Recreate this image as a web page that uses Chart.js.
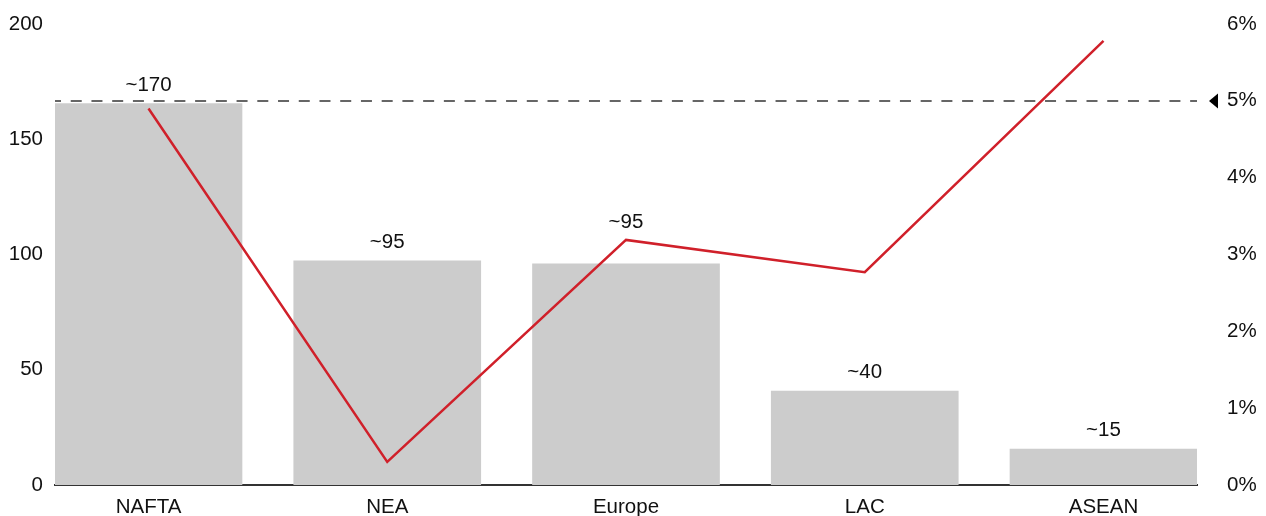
<!DOCTYPE html>
<html>
<head>
<meta charset="utf-8">
<script src="https://cdn.jsdelivr.net/npm/chart.js@4.4.1/dist/chart.umd.min.js"></script>
<style>
  html, body { margin: 0; padding: 0; background: #ffffff; }
  #wrap { width: 1266px; height: 516px; position: relative; }
</style>
</head>
<body>
<div id="wrap"><canvas id="c" width="1266" height="516"></canvas></div>
<script>
const categories = ['NAFTA', 'NEA', 'Europe', 'LAC', 'ASEAN'];
const barValues = [165.5, 97.2, 95.9, 40.8, 15.6];
const barLabels = ['~170', '~95', '~95', '~40', '~15'];
const growthPct = [4.90, 0.30, 3.19, 2.77, 5.78];
const leftTicks = [0, 50, 100, 150, 200];
const rightTicks = [0, 1, 2, 3, 4, 5, 6];
const targetPct = 5;

const FONT = '"Liberation Sans", Arial, sans-serif';
const FSIZE = 20.5;
const TEXT = '#111111';

function zeroPad(scale) {
  scale.paddingTop = 0; scale.paddingBottom = 0;
  scale.paddingLeft = 0; scale.paddingRight = 0;
}

const overlay = {
  id: 'overlay',
  beforeDatasetsDraw(chart) {
    const ctx = chart.ctx;
    const y1 = chart.scales.y1;
    const area = chart.chartArea;
    const y = Math.round(y1.getPixelForValue(targetPct));
    ctx.save();
    ctx.strokeStyle = '#666666';
    ctx.lineWidth = 2;
    ctx.setLineDash([11, 9.73]);
    ctx.lineDashOffset = 5;
    ctx.beginPath();
    ctx.moveTo(area.left, y);
    ctx.lineTo(area.right, y);
    ctx.stroke();
    ctx.setLineDash([]);
    ctx.fillStyle = '#000000';
    ctx.beginPath();
    ctx.moveTo(area.right + 12, y);
    ctx.lineTo(area.right + 21, y - 7.5);
    ctx.lineTo(area.right + 21, y + 7.5);
    ctx.closePath();
    ctx.fill();
    ctx.restore();
  },
  afterDatasetsDraw(chart) {
    const ctx = chart.ctx;
    const barMeta = chart.getDatasetMeta(0);
    const lineMeta = chart.getDatasetMeta(1);
    ctx.save();
    ctx.font = FSIZE + 'px ' + FONT;
    ctx.fillStyle = TEXT;
    ctx.textAlign = 'center';
    ctx.textBaseline = 'middle';
    barMeta.data.forEach((bar, i) => {
      const top = bar.y;
      const lp = lineMeta.data[i].y;
      let ly = top - 18.5;
      if (lp < top && lp > top - 40) ly = lp - 18;
      ctx.fillText(barLabels[i], bar.x, ly);
    });
    ctx.restore();
  }
};

const ctx = document.getElementById('c').getContext('2d');
new Chart(ctx, {
  type: 'bar',
  data: {
    datasets: [
      {
        type: 'bar',
        data: barValues.map((v, i) => ({ x: i, y: v })),
        backgroundColor: '#cccccc',
        borderWidth: 0,
        barThickness: 187,
        yAxisID: 'y',
        order: 1
      },
      {
        type: 'line',
        data: growthPct.map((v, i) => ({ x: i, y: v })),
        borderColor: '#d0202a',
        borderWidth: 2.5,
        pointRadius: 0,
        tension: 0,
        fill: false,
        yAxisID: 'y1',
        order: 0
      }
    ]
  },
  options: {
    responsive: false,
    animation: false,
    devicePixelRatio: 1,
    layout: { autoPadding: false, padding: { top: 24, left: 0, right: 0, bottom: 0 } },
    plugins: { legend: { display: false }, tooltip: { enabled: false } },
    scales: {
      x: {
        type: 'linear',
        offset: false,
        min: -0.3916,
        max: 4.3916,
        afterBuildTicks(scale) { scale.ticks = categories.map((c, i) => ({ value: i })); },
        afterFit(scale) { scale.height = 31; zeroPad(scale); },
        grid: { display: false, drawTicks: false, offset: false },
        border: { display: true, color: '#333333', width: 2 },
        ticks: {
          padding: 10,
          autoSkip: false,
          maxRotation: 0,
          color: TEXT,
          font: { family: FONT, size: FSIZE },
          callback: (v) => categories[v]
        }
      },
      y: {
        position: 'left',
        min: 0,
        max: 200,
        afterBuildTicks(scale) { scale.ticks = leftTicks.map(v => ({ value: v })); },
        afterFit(scale) { scale.width = 55; zeroPad(scale); },
        grid: { display: false, drawTicks: false },
        border: { display: false },
        ticks: { padding: 12, color: TEXT, font: { family: FONT, size: FSIZE } }
      },
      y1: {
        position: 'right',
        min: 0,
        max: 6,
        afterBuildTicks(scale) { scale.ticks = rightTicks.map(v => ({ value: v })); },
        afterFit(scale) { scale.width = 69; zeroPad(scale); },
        grid: { display: false, drawTicks: false },
        border: { display: false },
        ticks: { padding: 30, color: TEXT, font: { family: FONT, size: FSIZE }, callback: (v) => v + '%' }
      }
    }
  },
  plugins: [overlay]
});
</script>
</body>
</html>
